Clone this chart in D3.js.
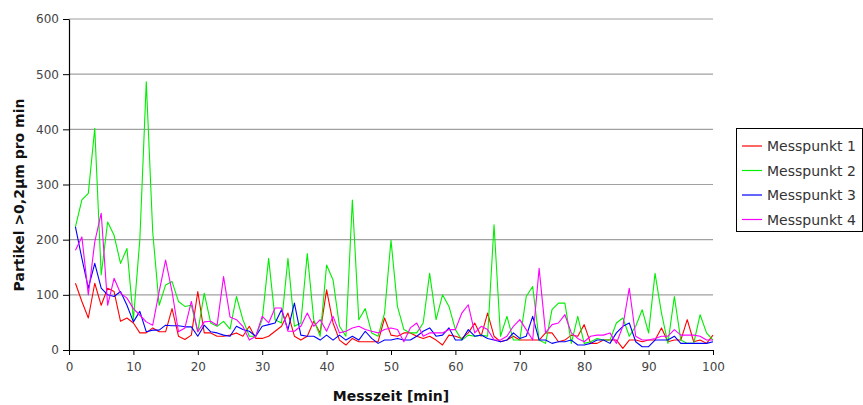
<!DOCTYPE html>
<html lang="de">
<head>
<meta charset="UTF-8" />
<title>Partikel pro min</title>
<style>
  body { margin: 0; background: #fff; }
  svg { display: block; }
  text { font-family: "DejaVu Sans", sans-serif; }
  .tick text { fill: #444; font-size: 12px; }
  .axis-title { font-size: 14px; font-weight: bold; fill: #111; }
  .legend text { font-size: 14px; fill: #333; }
</style>
<script src="https://d3js.org/d3.v7.min.js"></script>
</head>
<body>
<div id="chart"></div>
<script>
// Messzeit in Minuten (1..100)
const minutes = d3.range(1, 101);

const seriesNames = ["Messpunkt 1", "Messpunkt 2", "Messpunkt 3", "Messpunkt 4"];
const seriesColors = ["#ff0000", "#00ee00", "#0000ff", "#ff00ff"];

const messpunkt1 = [
  121, 88, 58, 121, 81, 112, 106, 52, 58, 49,
  31, 31, 40, 33, 33, 75, 25, 19, 27, 106,
  31, 31, 25, 25, 27, 31, 25, 43, 21, 21,
  25, 34, 43, 67, 25, 18, 25, 52, 31, 109,
  49, 18, 9, 21, 15, 15, 15, 15, 58, 27,
  25, 31, 31, 25, 21, 25, 18, 9, 27, 25,
  21, 31, 49, 25, 67, 25, 15, 18, 25, 18,
  18, 18, 18, 31, 31, 15, 18, 27, 25, 46,
  12, 12, 18, 18, 18, 3, 18, 18, 15, 18,
  18, 40, 15, 18, 18, 55, 15, 18, 12, 27
];

const messpunkt2 = [
  223, 272, 284, 402, 136, 232, 208, 157, 184, 55,
  200, 486, 214, 81, 118, 124, 88, 79, 81, 33,
  103, 49, 43, 52, 38, 97, 55, 25, 25, 55,
  166, 55, 49, 166, 43, 49, 175, 55, 25, 154,
  127, 43, 25, 272, 55, 75, 31, 25, 67, 199,
  79, 37, 31, 31, 49, 139, 55, 100, 79, 37,
  18, 27, 25, 27, 25, 227, 25, 61, 18, 18,
  97, 115, 18, 12, 73, 85, 85, 12, 61, 12,
  15, 21, 18, 18, 49, 58, 25, 43, 73, 31,
  139, 67, 12, 97, 18, 12, 12, 64, 31, 18
];

const messpunkt3 = [
  223, 166, 112, 157, 112, 100, 97, 106, 81, 51,
  70, 33, 36, 36, 45, 44, 44, 42, 42, 25,
  45, 33, 31, 27, 25, 43, 37, 34, 25, 43,
  46, 49, 73, 37, 85, 27, 25, 25, 18, 27,
  18, 27, 18, 25, 18, 34, 21, 12, 18, 18,
  21, 18, 18, 25, 34, 40, 25, 27, 40, 18,
  18, 37, 25, 27, 21, 18, 15, 18, 31, 21,
  25, 61, 18, 18, 12, 15, 15, 18, 9, 9,
  12, 18, 18, 12, 31, 43, 49, 15, 6, 6,
  18, 18, 18, 25, 12, 12, 12, 12, 12, 15
];

const messpunkt4 = [
  181, 205, 100, 196, 248, 81, 130, 103, 94, 75,
  63, 51, 45, 106, 163, 106, 33, 40, 88, 33,
  51, 52, 45, 133, 60, 55, 43, 18, 25, 61,
  49, 76, 76, 34, 34, 43, 67, 43, 55, 34,
  61, 31, 34, 40, 43, 37, 34, 31, 37, 40,
  37, 15, 40, 49, 25, 31, 31, 31, 37, 37,
  67, 82, 31, 43, 37, 18, 18, 25, 43, 55,
  37, 18, 148, 31, 46, 49, 64, 31, 21, 15,
  25, 27, 27, 31, 12, 43, 112, 25, 18, 18,
  21, 25, 25, 37, 27, 27, 27, 25, 18, 18
];

const xTicks = d3.range(0, 101, 10);
const yTicks = d3.range(0, 601, 100);

const allSeries = [messpunkt1, messpunkt2, messpunkt3, messpunkt4];

const width = 863;
const height = 405;
const margin = { top: 19, right: 150, bottom: 55, left: 69 };

const svg = d3.select("#chart")
  .append("svg")
  .attr("width", width)
  .attr("height", height);

const x = d3.scaleLinear()
  .domain([0, 100])
  .range([margin.left, width - margin.right]);

const y = d3.scaleLinear()
  .domain([0, 600])
  .range([height - margin.bottom, margin.top]);

// horizontal grid lines
svg.append("g")
  .selectAll("line")
  .data(yTicks.filter(d => d > 0))
  .join("line")
  .attr("x1", x(0))
  .attr("x2", x(100))
  .attr("y1", d => y(d))
  .attr("y2", d => y(d))
  .attr("stroke", "#a0a0a0")
  .attr("stroke-width", 1.2);

// series lines
const line = d3.line()
  .x((d, i) => x(minutes[i]))
  .y(d => y(d));

svg.append("g")
  .selectAll("path")
  .data(allSeries)
  .join("path")
  .attr("fill", "none")
  .attr("stroke", (d, i) => seriesColors[i])
  .attr("stroke-width", 1.1)
  .attr("stroke-linejoin", "round")
  .attr("d", line);

// axes
const xAxis = svg.append("g")
  .attr("transform", `translate(0,${y(0)})`)
  .call(d3.axisBottom(x).tickValues(xTicks).tickSize(5).tickPadding(7).tickSizeOuter(0));

const yAxis = svg.append("g")
  .attr("transform", `translate(${x(0)},0)`)
  .call(d3.axisLeft(y).tickValues(yTicks).tickSize(6).tickPadding(4).tickSizeOuter(0));

[xAxis, yAxis].forEach(g => {
  g.select(".domain").attr("stroke", "#000").attr("stroke-width", 1.2);
  g.selectAll(".tick line").attr("stroke", "#000");
});

// axis titles
svg.append("text")
  .attr("class", "axis-title")
  .attr("x", (x(0) + x(100)) / 2)
  .attr("y", 401)
  .attr("text-anchor", "middle")
  .text("Messzeit [min]");

svg.append("text")
  .attr("class", "axis-title")
  .attr("transform", "translate(24,195) rotate(-90)")
  .attr("text-anchor", "middle")
  .text("Partikel >0,2µm pro min");

// legend
const legend = svg.append("g").attr("class", "legend");

legend.append("rect")
  .attr("x", 736.5)
  .attr("y", 128.5)
  .attr("width", 126)
  .attr("height", 103)
  .attr("fill", "#fff")
  .attr("stroke", "#000");

const item = legend.selectAll("g.item")
  .data(seriesNames)
  .join("g")
  .attr("class", "item")
  .attr("transform", (d, i) => `translate(0,${146 + i * 24.5})`);

item.append("line")
  .attr("x1", 742)
  .attr("x2", 762)
  .attr("stroke", (d, i) => seriesColors[i])
  .attr("stroke-width", 1.2);

item.append("text")
  .attr("x", 767)
  .attr("y", 5)
  .text(d => d);
</script>
</body>
</html>
